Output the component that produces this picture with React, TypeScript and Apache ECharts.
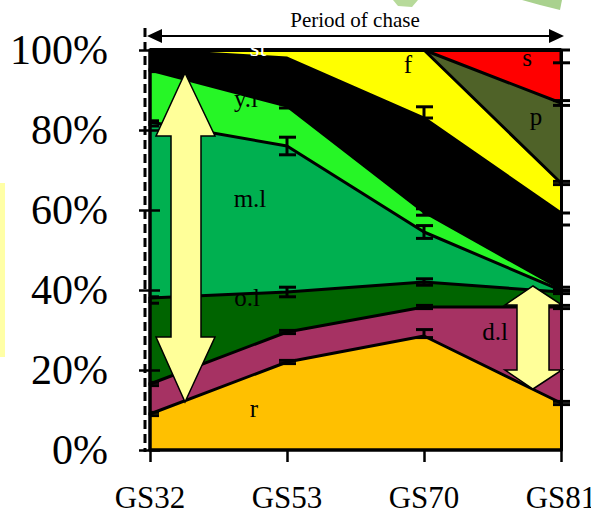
import React, { useEffect, useRef } from "react";
import * as echarts from "echarts";

const categories = ["GS32", "GS53", "GS70", "GS81"];
const layerNames = ["r", "d.l", "o.l", "m.l", "y.l", "st", "f", "p", "s"];
const rVals = [9, 22, 28.5, 11.75];
const dlVals = [7.5, 7.5, 7.25, 24];
const olVals = [21.5, 10, 6.25, 3.75];
const mlVals = [44, 36.5, 12.5, 0.4];
const ylVals = [13, 10, 5, 0.4];
const stVals = [5, 12, 23.5, 18.95];
const fVals = [0, 2, 17, 7.5];
const pVals = [0, 0, 0, 20];
const sVals = [0, 0, 0, 13.25];
const layerColors = ["#FFC000", "#A63263", "#006400", "#00B050", "#26F626", "#000000", "#FFFF00", "#4F6228", "#FF0000"];
const yTickValues = [0, 20, 40, 60, 80, 100];
// [category index, layer index (top boundary), down, up]
const errorBars = [
  [0, 0, 0.4, 0.4], [0, 1, 0.4, 0.4], [0, 2, 1.3, 0.3], [0, 3, 1, 0.3], [0, 4, 0.4, 0.4],
  [1, 0, 0.4, 0.4], [1, 1, 0.4, 0.4], [1, 2, 1.2, 1.2], [1, 3, 2.2, 2.2], [1, 4, 0.5, 0.5],
  [2, 0, 0.4, 1.6], [2, 1, 0.4, 0.4], [2, 2, 0.8, 0.8], [2, 3, 1.6, 1.6], [2, 4, 0.8, 0.8], [2, 5, 0, 2.8],
  [3, 0, 0.4, 0.4], [3, 1, 0.4, 0.4], [3, 2, 0.4, 0.4], [3, 4, 0.4, 0.4], [3, 5, 3, 0], [3, 6, 0.4, 0.4], [3, 7, 0.6, 0.6], [3, 8, 3.2, 0],
];

const layers = [rVals, dlVals, olVals, mlVals, ylVals, stVals, fVals, pVals, sVals];
const FONT = "Liberation Serif";

export default function App() {
  const ref = useRef<HTMLDivElement>(null);
  useEffect(() => {
    if (!ref.current) return;
    const chart = echarts.init(ref.current, undefined, { renderer: "svg" });
    const cum: number[][] = [];
    layers.forEach((vals, i) => {
      cum.push(vals.map((v, j) => (i === 0 ? v : cum[i - 1][j] + v)));
    });
    const ebData = errorBars.map(([c, l, d, u]) => {
      const center = cum[l][c];
      return [c, center, center - d, center + u];
    });

    const areaSeries = layers.map((vals, i) => ({
      name: layerNames[i],
      type: "line",
      stack: "area",
      data: vals,
      symbol: "none",
      lineStyle: { width: 0 },
      areaStyle: { color: layerColors[i], opacity: 1 },
      z: 2,
      silent: true,
    }));
    const lineSeries = layers.map((vals, i) => ({
      name: layerNames[i] + "-line",
      type: "line",
      stack: "lines",
      data: vals,
      symbol: "none",
      lineStyle: { color: "#000", width: i === layers.length - 1 ? 4 : 3 },
      z: 3,
      silent: true,
    }));

    const label = (t: string, x: number, y: number, fill = "#000") => ({
      type: "text",
      x,
      y,
      z: 120,
      style: { text: t, fill, fontSize: 25, fontFamily: FONT, align: "center", verticalAlign: "middle" },
    });
    const arrowStyle = { fill: "#FFFF99", stroke: "#000", lineWidth: 1.5 };

    chart.setOption({
      animation: false,
      textStyle: { fontFamily: FONT },
      grid: { left: 150, right: 30, top: 50, bottom: 65, outerBoundsMode: "none", containLabel: false },
      xAxis: {
        type: "category",
        data: categories,
        boundaryGap: false,
        axisLine: { lineStyle: { color: "#000", width: 3.5 } },
        axisTick: { show: true, length: 12, lineStyle: { color: "#000", width: 2.5 } },
        axisLabel: { interval: 0, color: "#000", fontSize: 31, lineHeight: 28, fontFamily: FONT, margin: 33 },
        splitLine: { show: false },
        z: 10,
      },
      yAxis: [
        {
          type: "value",
          min: 0,
          max: 100,
          interval: 20,
          position: "left",
          axisLine: { show: true, lineStyle: { color: "#000", width: 3.5 } },
          axisTick: { show: true, length: 11, lineStyle: { color: "#000", width: 2.5 } },
          axisLabel: { color: "#000", fontSize: 42, fontFamily: FONT, margin: 42, formatter: "{value}%" },
          splitLine: { show: false },
          z: 10,
        },
        {
          type: "value",
          min: 0,
          max: 100,
          interval: 20,
          position: "left",
          axisLine: { show: false },
          axisTick: { show: true, inside: true, length: 10, lineStyle: { color: "#000", width: 2.5 } },
          axisLabel: { show: false },
          splitLine: { show: false },
          z: 10,
        },
        {
          type: "value",
          min: 0,
          max: 100,
          interval: 20,
          position: "right",
          axisLine: { show: true, lineStyle: { color: "#000", width: 3 } },
          axisTick: { show: false },
          axisLabel: { show: false },
          splitLine: { show: false },
          z: 10,
        },
      ],
      series: [
        ...areaSeries,
        ...lineSeries,
        {
          type: "custom",
          name: "errors",
          data: ebData,
          z: 5,
          silent: true,
          renderItem: (params: any, api: any) => {
            const x = api.value(0);
            const lo = api.coord([x, api.value(2)]);
            const hi = api.coord([x, api.value(3)]);
            const cx = lo[0];
            const x0 = x === 0 ? cx : cx - 8;
            const x1 = cx + 9;
            const st = { stroke: "#000", lineWidth: 3 };
            return {
              type: "group",
              children: [
                { type: "line", shape: { x1: cx, y1: lo[1], x2: cx, y2: hi[1] }, style: st },
                { type: "line", shape: { x1: x0, y1: lo[1], x2: x1, y2: lo[1] }, style: st },
                { type: "line", shape: { x1: x0, y1: hi[1], x2: x1, y2: hi[1] }, style: st },
              ],
            };
          },
        },
      ],
      graphic: [
        { type: "rect", z: 100, shape: { x: 0, y: 183, width: 5, height: 174 }, style: { fill: "#FFFFA6" } },
        { type: "polygon", z: 100, shape: { points: [[393, 0], [418, 0], [412, 7], [398, 6]] }, style: { fill: "#B7DA9A" } },
        { type: "polygon", z: 100, shape: { points: [[522, 0], [562, 0], [560, 10], [540, 5]] }, style: { fill: "#A9D18E" } },
        { type: "line", z: 110, shape: { x1: 145, y1: 28, x2: 145, y2: 452 }, style: { stroke: "#000", lineWidth: 3, lineDash: [9, 5] } },
        { type: "line", z: 110, shape: { x1: 158, y1: 36, x2: 552, y2: 36 }, style: { stroke: "#000", lineWidth: 2 } },
        { type: "polygon", z: 110, shape: { points: [[147, 36], [162, 29], [162, 43]] }, style: { fill: "#000" } },
        { type: "polygon", z: 110, shape: { points: [[564, 36], [549, 29], [549, 43]] }, style: { fill: "#000" } },
        {
          type: "text", x: 355, y: 20, z: 110,
          style: { text: "Period of chase", fill: "#000", fontSize: 21, fontFamily: FONT, align: "center", verticalAlign: "middle" },
        },
        {
          type: "polygon", z: 110,
          shape: { points: [[185, 73], [215, 136], [201, 136], [201, 337], [215, 337], [185, 402], [156, 337], [171, 337], [171, 136], [156, 136]] },
          style: arrowStyle,
        },
        {
          type: "polygon", z: 110,
          shape: { points: [[533, 286], [562, 305], [549, 305], [549, 370], [562, 370], [533, 389], [505, 370], [517, 370], [517, 305], [505, 305]] },
          style: arrowStyle,
        },
        label("st", 258, 47, "#fff"),
        label("y.l", 246, 98),
        label("m.l", 250, 198),
        label("o.l", 247, 297),
        label("r", 254, 408),
        label("d.l", 495, 331),
        label("f", 408, 64),
        label("s", 527, 57),
        label("p", 536, 116),
      ],
    });
    return () => chart.dispose();
  }, []);
  return <div ref={ref} style={{ width: 591, height: 515, position: "absolute", left: 0, top: 0 }} />;
}
